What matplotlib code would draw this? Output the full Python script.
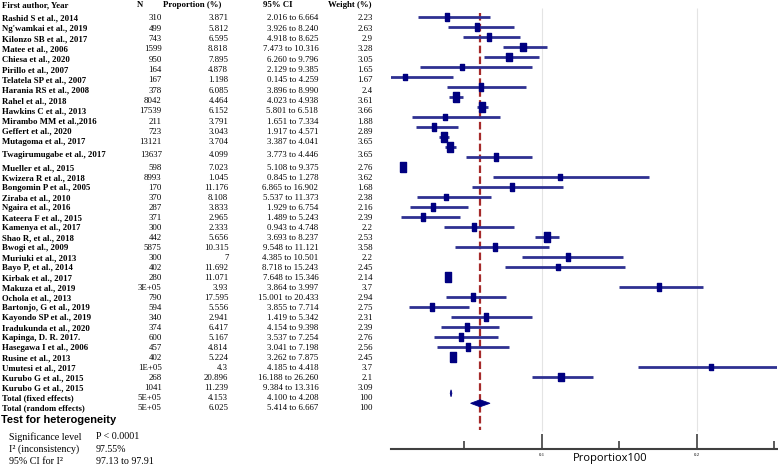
import numpy as np
import matplotlib.pyplot as plt

studies = ["Rashid S et al., 2014", "Ng'wamkai et al., 2019", "Kilonzo SB et al., 2017",
           "Matee et al., 2006", "Chiesa et al., 2020", "Pirillo et al., 2007",
           "Telatela SP et al., 2007", "Harania RS et al., 2008", "Rahel et al., 2018",
           "Hawkins C et al., 2013", "Mirambo MM et al.,2016", "Geffert et al., 2020",
           "Mutagoma et al., 2017", "Twagirumugabe et al., 2017", "Mueller et al., 2015",
           "Kwizera R et al., 2018", "Bongomin P et al., 2005", "Ziraba et al., 2010",
           "Ngaira et al., 2016", "Kateera F et al., 2015", "Kamenya et al., 2017",
           "Shao R, et al., 2018", "Bwogi et al., 2009", "Muriuki et al., 2013",
           "Bayo P, et al., 2014", "Kirbak et al., 2017", "Makuza et al., 2019",
           "Ochola et al., 2013", "Bartonjo, G et al., 2019", "Kayondo SP et al., 2019",
           "Iradukunda et al., 2020", "Kapinga, D. R. 2017.", "Hasegawa I et al., 2006",
           "Rusine et al., 2013", "Umutesi et al., 2017", "Kurubo G et al., 2015",
           "Kurubo G et al., 2015"]
n_labels = ["310", "499", "743", "1599", "950", "164", "167", "378", "8042", "17539",
            "211", "723", "13121", "13637", "598", "8993", "170", "370", "287", "371",
            "300", "442", "5875", "300", "402", "280", "3E+05", "790", "594", "340",
            "374", "600", "457", "402", "1E+05", "268", "1041"]
prop = [3.871, 5.812, 6.595, 8.818, 7.895, 4.878, 1.198, 6.085, 4.464, 6.152,
        3.791, 3.043, 3.704, 4.099, 7.023, 1.045, 11.176, 8.108, 3.833, 2.965,
        2.333, 5.656, 10.315, 7, 11.692, 11.071, 3.93, 17.595, 5.556, 2.941,
        6.417, 5.167, 4.814, 5.224, 4.3, 20.896, 11.239]
ci_lo = [2.016, 3.926, 4.918, 7.473, 6.260, 2.129, 0.145, 3.896, 4.023, 5.801,
         1.651, 1.917, 3.387, 3.773, 5.108, 0.845, 6.865, 5.537, 1.929, 1.489,
         0.943, 3.693, 9.548, 4.385, 8.718, 7.648, 3.864, 15.001, 3.855, 1.419,
         4.154, 3.537, 3.041, 3.262, 4.185, 16.188, 9.384]
ci_hi = [6.664, 8.240, 8.625, 10.316, 9.796, 9.385, 4.259, 8.990, 4.938, 6.518,
         7.334, 4.571, 4.041, 4.446, 9.375, 1.278, 16.902, 11.373, 6.754, 5.243,
         4.748, 8.237, 11.121, 10.501, 15.243, 15.346, 3.997, 20.433, 7.714, 5.342,
         9.398, 7.254, 7.198, 7.875, 4.418, 26.260, 13.316]
weight = [2.23, 2.63, 2.9, 3.28, 3.05, 1.65, 1.67, 2.4, 3.61, 3.66,
          1.88, 2.89, 3.65, 3.65, 2.76, 3.62, 1.68, 2.38, 2.16, 2.39,
          2.2, 2.53, 3.58, 2.2, 2.45, 2.14, 3.7, 2.94, 2.75, 2.31,
          2.39, 2.76, 2.56, 2.45, 3.7, 2.1, 3.09]

totals = ["Total (fixed effects)", "Total (random effects)"]
tot_n = ["5E+05", "5E+05"]
tot_prop = [4.153, 6.025]
tot_lo = [4.100, 5.414]
tot_hi = [4.208, 6.667]
tot_w = [100, 100]

het_labels = ["Significance level", "I\u00b2 (inconsistency)", "95% CI for I\u00b2"]
het_values = ["P < 0.0001", "97.55%", "97.13 to 97.91"]

W, H = 778, 473
fig = plt.figure(figsize=(W / 100, H / 100), dpi=100)


def fx(x):
    return x / W


def fy(y):
    return 1 - y / H


serif = 'Liberation Serif'
fs = 6.3

# table on the left
ty = [18.3 + 10.33 * i for i in range(13)] + [155] + [168.3 + 10 * k for k in range(25)]
fig.text(fx(2), fy(5), "First author, Year", ha='left', va='center', fontsize=fs,
         fontweight='bold', family=serif)
fig.text(fx(140), fy(5), "N", ha='center', va='center', fontsize=fs, fontweight='bold', family=serif)
fig.text(fx(192), fy(5), "Proportion (%)", ha='center', va='center', fontsize=fs,
         fontweight='bold', family=serif)
fig.text(fx(278), fy(5), "95% CI", ha='center', va='center', fontsize=fs, fontweight='bold', family=serif)
fig.text(fx(350), fy(5), "Weight (%)", ha='center', va='center', fontsize=fs,
         fontweight='bold', family=serif)

names = studies + totals
ns = n_labels + tot_n
ps = [f"{v:g}" for v in prop] + [f"{v:.3f}" for v in tot_prop]
cis = [f"{a:.3f} to {b:.3f}" for a, b in zip(ci_lo + tot_lo, ci_hi + tot_hi)]
ws = [f"{w:g}" for w in weight + tot_w]
for y, nm, n, p, ci, w in zip(ty, names, ns, ps, cis, ws):
    fig.text(fx(2), fy(y), nm, ha='left', va='center', fontsize=fs, fontweight='bold', family=serif)
    fig.text(fx(161.7), fy(y), n, ha='right', va='center', fontsize=fs, family=serif)
    fig.text(fx(228.3), fy(y), p, ha='right', va='center', fontsize=fs, family=serif)
    fig.text(fx(318.3), fy(y), ci, ha='right', va='center', fontsize=fs, family=serif)
    fig.text(fx(372.7), fy(y), w, ha='right', va='center', fontsize=fs, family=serif)

fig.text(fx(1), fy(420), "Test for heterogeneity", ha='left', va='center', fontsize=7.9,
         fontweight='bold', family='Liberation Sans')
for y, lab, val in zip([436.7, 449, 461.7], het_labels, het_values):
    fig.text(fx(9), fy(y), lab, ha='left', va='center', fontsize=7.2, family=serif)
    fig.text(fx(96), fy(y), val, ha='left', va='center', fontsize=7.2, family=serif)

# forest plot
ax = fig.add_axes([fx(390.7), fy(448.5), (777 - 390.7) / W, (448.5 - 8) / H])
ax.set_facecolor('none')
rows = np.arange(len(studies))
ax.vlines([0.1, 0.2], -0.93, 41.4, color='#e4e4e4', lw=0.8, zorder=0)
ax.hlines(rows, np.array(ci_lo) / 100, np.array(ci_hi) / 100, color='#2f3192', lw=2.0, zorder=2)
rect = [(-0.3, -0.5), (0.3, -0.5), (0.3, 0.5), (-0.3, 0.5), (-0.3, -0.5)]
for i, (p, w) in enumerate(zip(prop, weight)):
    ax.plot(p / 100, i, marker=rect, ms=(3.5 + 1.6 * w) * 0.72, color='#000080',
            mec='#000080', ls='none', zorder=3)

# pooled estimates as diamonds
for k, y in enumerate([37.6, 38.6]):
    lo, p, hi = tot_lo[k] / 100, tot_prop[k] / 100, tot_hi[k] / 100
    ax.fill([lo, p, hi, p], [y, y - 0.35, y, y + 0.35], color='#000080', lw=0.6,
            ec='#000080', zorder=3)

ax.vlines(tot_prop[1] / 100, -0.43, 41.3, color='#a52a2a', ls=(0, (3.4, 1.5)), lw=1.6, zorder=1)

ax.set_xlim(0.0026, 0.0026 + (777 - 390.7) / 1550)
ax.set_ylim(43.12, -0.93)
ax.set_yticks([])
ax.set_xticks([0.1, 0.2])
ax.set_xticklabels(['0.1', '0.2'], fontsize=3.5, family=serif)
ax.set_xticks([0.05, 0.15, 0.25], minor=True)
ax.tick_params(axis='x', which='major', direction='in', length=10.5, width=1.2,
               color='#404040', pad=3)
ax.tick_params(axis='x', which='minor', direction='in', length=5.5, width=1.2,
               color='#404040')
for s in ['top', 'left', 'right']:
    ax.spines[s].set_visible(False)
ax.spines['bottom'].set_linewidth(1.5)
ax.spines['bottom'].set_color('#404040')
ax.set_xlabel('Proportiox100', fontsize=8, family='Open Sans')
ax.xaxis.set_label_coords((610 - 390.7) / 386.3, -(458 - 448.5) / 440.5)
ax.xaxis.label.set_verticalalignment('center')

fig.savefig('out.png', dpi=100)
